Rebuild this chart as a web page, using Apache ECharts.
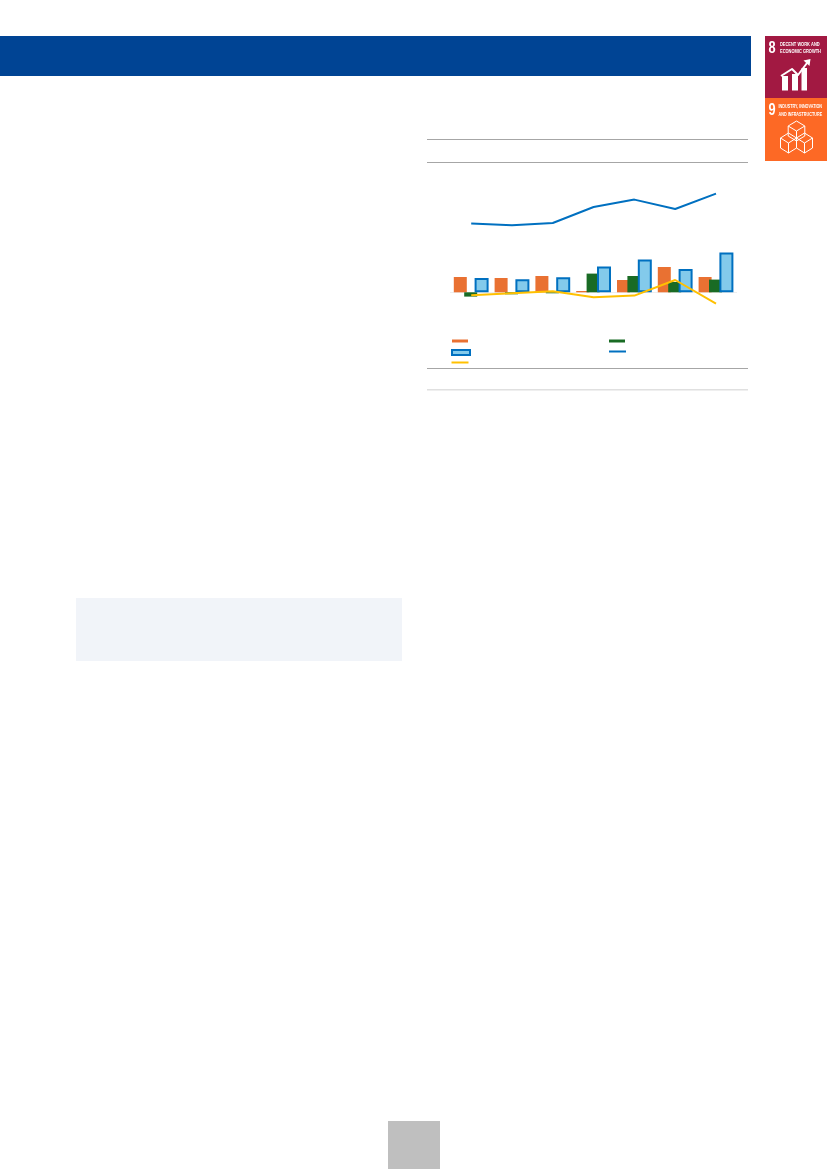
<!DOCTYPE html>
<html><head><meta charset="utf-8">
<style>html,body{margin:0;padding:0;background:#fff}#c{width:827px;height:1169px}</style>
<script src="https://cdn.jsdelivr.net/npm/echarts@6/dist/echarts.min.js"></script>
</head><body><div id="c"></div>
<script>
const categories = ['A','B','C','D','E','F','G'];
const orangeBars = [15.3,14.3,16.3,1.3,12.3,25.3,15.3];
const greenBars = [-4.3,-2,-1,18.7,16.3,10.3,12.7];
const blueBars = [14.3,13,15,25.7,32.7,23.3,39.7];
const yellowLine = [-3,-1,1,-5,-3.3,12.3,-11.3];
const blueLine = [68.7,67,69.3,85.3,92.7,83.3,98.7];

const BLUE='#0070c0', ORANGE='#e97132', GREEN='#196b24', LIGHT='#83caeb', YELLOW='#ffc000';
const rule=(y,c,w)=>({type:'line',shape:{x1:427,y1:y,x2:748,y2:y},style:{stroke:c,lineWidth:w||1}});
const rect=(x,y,w,h,c)=>({type:'rect',shape:{x,y,width:w,height:h},style:{fill:c}});
const txt=(x,y,t,s,lh,sx)=>({type:'text',x,y,scaleX:sx,originX:0,style:{text:t,fill:'#fff',font:'bold '+s+'px "Liberation Sans",sans-serif',verticalAlign:'top',lineHeight:lh}});
const poly=(pts,stroke,lw)=>({type:'polyline',shape:{points:pts},style:{stroke,fill:'none',lineWidth:lw,lineJoin:'round'}});
const cube=(cx,top,w,h)=>{
  const q=h/4, a=[cx,top], b=[cx+w,top+q], c=[cx+w,top+3*q], d=[cx,top+h], e=[cx-w,top+3*q], f=[cx-w,top+q], m=[cx,top+2*q];
  return [poly([a,b,c,d,e,f,a],'#fff',1),poly([f,m,b],'#fff',1),poly([m,d],'#fff',1)];
};
const legend=(name,left,top,w,h)=>({data:[name],left,top,itemWidth:w,itemHeight:h,padding:0,icon:'rect',formatter:()=>'',selectedMode:false,textStyle:{fontSize:1}});

const graphicEls=[
 rect(0,36,751,40,'#004494'),
 rect(76,598,326,63,'#f1f4f9'),
 rect(388,1121,52,48,'#bfbfbf'),
 rect(765,36,62,62,'#a21942'),
 rect(765,98,62,63,'#fd6925'),
 rule(139.5,'#a6a6a6',1.2),rule(162.5,'#a6a6a6',1.2),rule(368.5,'#a6a6a6',1.2),rule(389.7,'#e0e0e0',1.4),
 {type:'line',shape:{x1:450,y1:292.5,x2:737,y2:292.5},style:{stroke:'#eeeeee',lineWidth:1}},
 txt(768.5,40,'8',17,17,0.75),
 txt(780,40.5,'DECENT WORK AND\nECONOMIC GROWTH',5.5,7.3,0.72),
 rect(782,76,6,14.5,'#fff'),rect(792,74,6,16.5,'#fff'),rect(801.5,68,5.5,22.5,'#fff'),
 poly([[781,76],[792,69],[798,75],[807,63]],'#fff',2),
 {type:'polygon',shape:{points:[[803.5,60.5],[810.5,59],[809.5,66]]},style:{fill:'#fff'}},
 txt(768.5,102,'9',17,17,0.75),
 txt(778.5,102,'INDUSTRY, INNOVATION\nAND INFRASTRUCTURE',5.5,8,0.68),
 ...cube(796.5,121,8.3,20),
 ...cube(788.5,133,8,20),
 ...cube(804.5,133,8,20)
];

const chart=echarts.init(document.getElementById('c'),null,{renderer:'canvas'});
chart.setOption({
 animation:false,
 backgroundColor:'#fff',
 grid:{left:450.8,width:285.6,top:182.3,height:140},
 xAxis:{type:'category',data:categories,axisLine:{show:false},axisTick:{show:false},axisLabel:{show:false},splitLine:{show:false}},
 yAxis:{type:'value',min:-30,max:110,interval:10,axisLine:{show:false},axisTick:{show:false},axisLabel:{show:false},splitLine:{show:false}},
 legend:[
  legend('Orange bars',452,339.5,16,3),
  legend('Green bars',609,339.5,16,3),
  legend('Blue bars',451,349,18,5),
  legend('Blue line',609,350.5,17,2),
  legend('Yellow line',451.5,361.5,17,2)
 ],
 graphic:graphicEls,
 series:[
  {name:'Orange bars',type:'bar',data:orangeBars,barWidth:13,barGap:'-20%',itemStyle:{color:ORANGE}},
  {name:'Green bars',type:'bar',data:greenBars,barWidth:13,barGap:'-20%',itemStyle:{color:GREEN}},
  {name:'Blue bars',type:'bar',data:blueBars,barWidth:14,barGap:'-20%',itemStyle:{color:LIGHT,borderColor:BLUE,borderWidth:2}},
  {name:'Blue line',type:'line',data:blueLine,symbol:'none',z:5,lineStyle:{color:BLUE,width:2},itemStyle:{color:BLUE}},
  {name:'Yellow line',type:'line',data:yellowLine,symbol:'none',z:5,lineStyle:{color:YELLOW,width:2},itemStyle:{color:YELLOW}}
 ]
});
</script></body></html>
